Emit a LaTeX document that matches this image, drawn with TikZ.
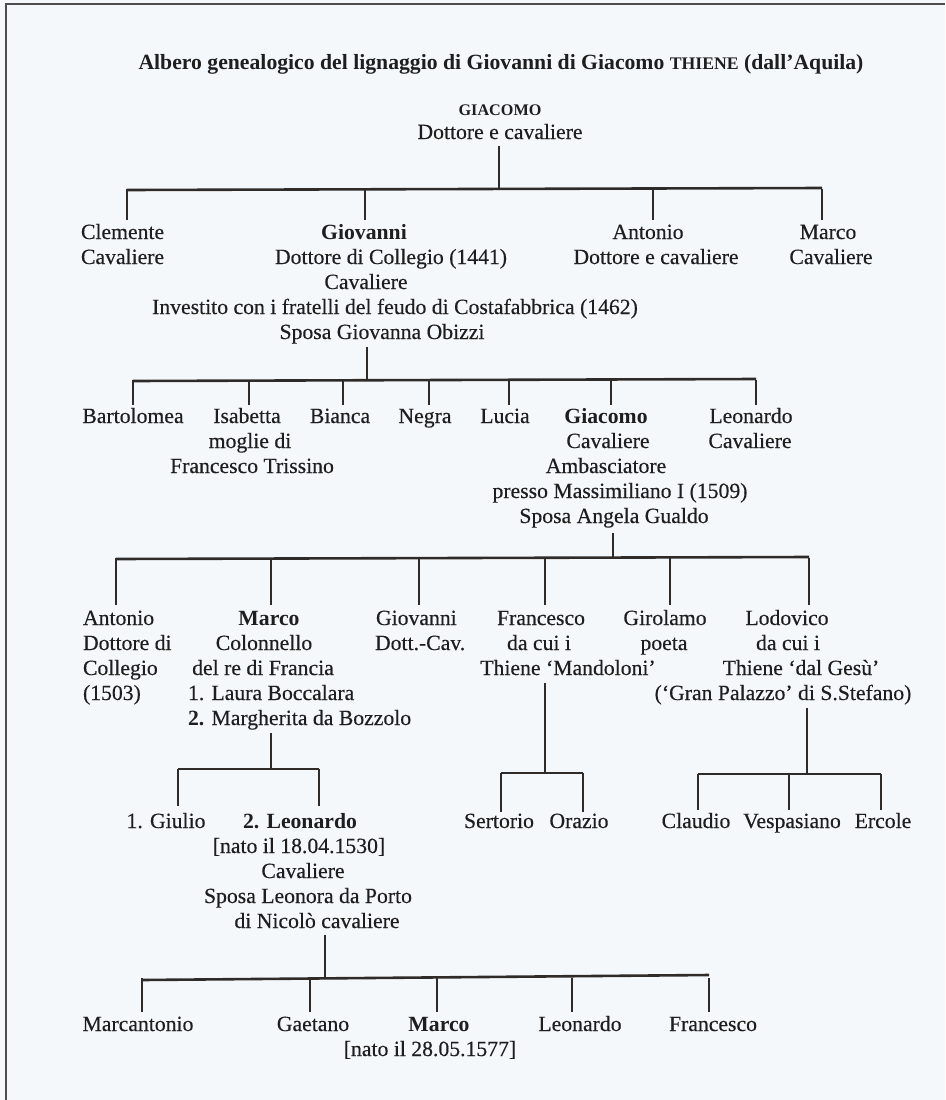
\documentclass[tikz,border=0pt]{standalone}
\usepackage{fontspec}
\setmainfont{Liberation Serif}[UprightFeatures={FakeBold=0.4}]
\definecolor{bg}{HTML}{F5F8FB}
\definecolor{ink}{HTML}{1E1E1E}
\definecolor{wire}{HTML}{2E2B28}
\newcommand\txl[4]{\node[ln] (#1) at (#2,#3) {#4};}
\newcommand\txw[4]{\node[lnw] (#1) at (#2,#3) {#4};}
\begin{document}
\begin{tikzpicture}[x=1pt,y=-1pt,
  every node/.style={inner sep=0pt, outer sep=0pt, text=ink,
    font=\fontsize{21.7}{25}\selectfont},
  ln/.style={anchor=base},
  lnw/.style={anchor=base west},
  bar/.style={draw=wire, line width=2.6pt},
  drop/.style={draw=wire, line width=1.6pt},
  frameline/.style={draw=black!70, line width=1.6pt},
  smallcap/.style={font=\fontsize{16.2}{20}\selectfont\bfseries},
]
\fill[bg] (0,0) rectangle (945,1100);
\useasboundingbox (0,0) rectangle (945,1100);
\draw[frameline] (6,1100) -- (6,4) -- (945,4);

% title
\node[ln] (title) at (501,69) {\bfseries Albero genealogico del lignaggio di Giovanni di Giacomo {\fontsize{17.7}{20}\selectfont THIENE} (dall'Aquila)};

% generation 0
\node[ln,smallcap] (g0) at (500,115) {GIACOMO};
\txl{g0b}{500}{139}{Dottore e cavaliere}

% generation 1
\txw{clemente}{81}{239}{Clemente}
\txw{clementeb}{81}{264}{Cavaliere}
\txl{giovanni}{364}{239}{\bfseries Giovanni}
\txl{giovannib}{391}{264}{Dottore di Collegio (1441)}
\txl{giovannic}{366}{289}{Cavaliere}
\txl{giovannid}{395}{314}{Investito con i fratelli del feudo di Costafabbrica (1462)}
\txl{giovannie}{382}{339}{Sposa Giovanna Obizzi}
\txl{antonioA}{648}{239}{Antonio}
\txl{antonioAb}{656}{264}{Dottore e cavaliere}
\txl{marcoA}{828}{239}{Marco}
\txl{marcoAb}{831}{264}{Cavaliere}

% generation 2
\txl{bartolomea}{133}{423}{Bartolomea}
\txl{isabetta}{247}{423}{Isabetta}
\txl{isabettab}{250}{448}{moglie di}
\txl{isabettac}{252}{473}{Francesco Trissino}
\txl{bianca}{340}{423}{Bianca}
\txl{negra}{425}{423}{Negra}
\txl{lucia}{505}{423}{Lucia}
\txl{giacomo}{606}{423}{\bfseries Giacomo}
\txl{giacomob}{608}{448}{Cavaliere}
\txl{giacomoc}{606}{473}{Ambasciatore}
\txl{giacomod}{620}{498}{presso Massimiliano I (1509)}
\txl{giacomoe}{614}{523}{Sposa Angela Gualdo}
\txl{leonardoB}{751}{423}{Leonardo}
\txl{leonardoBb}{750}{448}{Cavaliere}

% generation 3
\txw{antonioC}{83}{625}{Antonio}
\txw{antonioCb}{83}{650}{Dottore di}
\txw{antonioCc}{83}{675}{Collegio}
\txw{antonioCd}{83}{700}{(1503)}
\txl{marcoC}{269}{625}{\bfseries Marco}
\txl{marcoCb}{264}{650}{Colonnello}
\txl{marcoCc}{263}{675}{del re di Francia}
\txw{marcoCd}{188}{700}{1. Laura Boccalara}
\txw{marcoCe}{188}{725}{\textbf{2.} Margherita da Bozzolo}
\txw{giovanniC}{376}{625}{Giovanni}
\txw{giovanniCb}{375}{650}{Dott.-Cav.}
\txl{francescoC}{541}{625}{Francesco}
\txl{francescoCb}{539}{650}{da cui i}
\txl{francescoCc}{568}{675}{Thiene `Mandoloni'}
\txl{girolamo}{665}{625}{Girolamo}
\txl{girolamob}{664}{650}{poeta}
\txl{lodovico}{787}{625}{Lodovico}
\txl{lodovicob}{788}{650}{da cui i}
\txl{lodovicoc}{801}{675}{Thiene `dal Gesù'}
\txl{lodovicod}{783}{700}{(`Gran Palazzo' di S.Stefano)}

% generation 4
\txl{giulio}{166}{828}{1. Giulio}
\txl{leonardoD}{300}{828}{\bfseries 2. Leonardo}
\txl{leonardoDb}{299}{853}{[nato il 18.04.1530]}
\txl{leonardoDc}{303}{878}{Cavaliere}
\txl{leonardoDd}{308}{903}{Sposa Leonora da Porto}
\txl{leonardoDe}{317}{928}{di Nicolò cavaliere}
\txl{sertorio}{499}{828}{Sertorio}
\txl{orazio}{579}{828}{Orazio}
\txl{claudio}{696}{828}{Claudio}
\txl{vespasiano}{792}{828}{Vespasiano}
\txl{ercole}{883}{828}{Ercole}

% generation 5
\txl{marcantonio}{138}{1031}{Marcantonio}
\txl{gaetano}{313}{1031}{Gaetano}
\txl{marcoE}{439}{1031}{\bfseries Marco}
\txl{marcoEb}{430}{1056}{[nato il 28.05.1577]}
\txl{leonardoE}{580}{1031}{Leonardo}
\txl{francescoE}{713}{1031}{Francesco}

% connectors: parent stem -> bar -> drops
% family of Giacomo (gen 0)
\coordinate (s0) at (499,146); \coordinate (j0) at (499,189);
\draw[drop] (s0) -- (j0);
\coordinate (b0l) at (127,190); \coordinate (b0r) at (822,188);
\draw[bar] (b0l) -- (b0r);
\foreach \n/\x in {clemente/127, giovanni/365, antonioA/653, marcoA/822}
  { \coordinate (\n-t) at (\x,220); \draw[drop] (\n-t |- j0) -- (\n-t); }

% family of Giovanni (gen 1)
\coordinate (s1) at (367,347); \coordinate (j1) at (367,380);
\draw[drop] (s1) -- (j1);
\coordinate (b1l) at (133,381); \coordinate (b1r) at (756,379);
\draw[bar] (b1l) -- (b1r);
\foreach \n/\x in {bartolomea/133, isabetta/249, bianca/343, negra/429, lucia/509, giacomo/611, leonardoB/756}
  { \coordinate (\n-t) at (\x,405); \draw[drop] (\n-t |- j1) -- (\n-t); }

% family of Giacomo (gen 2)
\coordinate (s2) at (613,533); \coordinate (j2) at (613,558);
\draw[drop] (s2) -- (j2);
\coordinate (b2l) at (116,559); \coordinate (b2r) at (809,557);
\draw[bar] (b2l) -- (b2r);
\foreach \n/\x in {antonioC/116, marcoC/271, giovanniC/419, francescoC/545, girolamo/670, lodovico/809}
  { \coordinate (\n-t) at (\x,605); \draw[drop] (\n-t |- j2) -- (\n-t); }

% family of Marco (gen 3)
\coordinate (s3a) at (271,733); \coordinate (j3a) at (271,769);
\draw[drop] (s3a) -- (j3a);
\coordinate (b3al) at (178,769); \coordinate (b3ar) at (319,769);
\draw[bar] (b3al) -- (b3ar);
\foreach \n/\x in {giulio/178, leonardoD/319}
  { \coordinate (\n-t) at (\x,806); \draw[drop] (\n-t |- j3a) -- (\n-t); }

% family of Francesco (gen 3)
\coordinate (s3b) at (545,683); \coordinate (j3b) at (545,773);
\draw[drop] (s3b) -- (j3b);
\coordinate (b3bl) at (501,773); \coordinate (b3br) at (583,773);
\draw[bar] (b3bl) -- (b3br);
\foreach \n/\x in {sertorio/501, orazio/583}
  { \coordinate (\n-t) at (\x,812); \draw[drop] (\n-t |- j3b) -- (\n-t); }

% family of Lodovico (gen 3)
\coordinate (s3c) at (807,708); \coordinate (j3c) at (807,774);
\draw[drop] (s3c) -- (j3c);
\coordinate (b3cl) at (698,774); \coordinate (b3cr) at (881,774);
\draw[bar] (b3cl) -- (b3cr);
\foreach \n/\x in {claudio/698, vespasiano/789, ercole/881}
  { \coordinate (\n-t) at (\x,810); \draw[drop] (\n-t |- j3c) -- (\n-t); }

% family of Leonardo (gen 4)
\coordinate (s4) at (325,935); \coordinate (j4) at (325,978);
\draw[drop] (s4) -- (j4);
\coordinate (b4l) at (142,980); \coordinate (b4r) at (709,975);
\draw[bar] (b4l) -- (b4r);
\foreach \n/\x in {marcantonio/142, gaetano/310, marcoE/437, leonardoE/572, francescoE/709}
  { \coordinate (\n-t) at (\x,1012); \draw[drop] (\n-t |- j4) -- (\n-t); }
\end{tikzpicture}
\end{document}
